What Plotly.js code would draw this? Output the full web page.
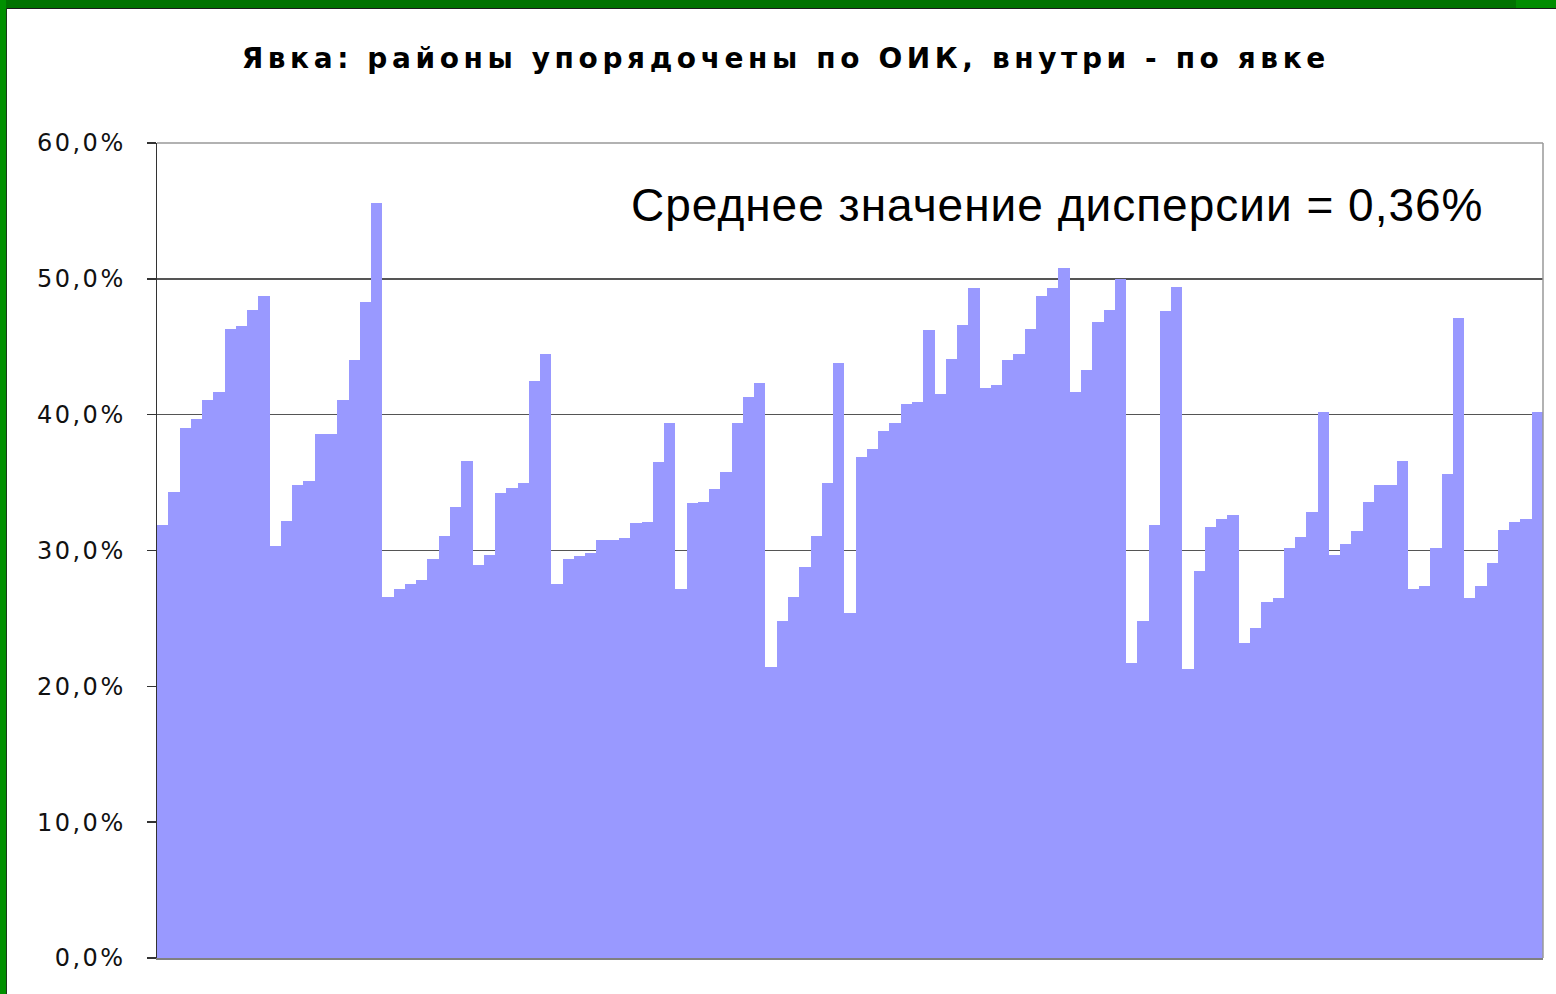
<!DOCTYPE html>
<html>
<head>
<meta charset="utf-8">
<script src="https://cdn.plot.ly/plotly-3.0.1.min.js"></script>
<style>
  html, body { margin: 0; padding: 0; background: #ffffff; }
  #wrap { position: relative; width: 1556px; height: 994px; overflow: hidden; }
  #chart { position: absolute; left: 0; top: 0; width: 1556px; height: 994px; }
  .frame { position: absolute; }
  .gtitle { letter-spacing: 4.6px; }
  .ytick text { letter-spacing: 2.5px; }
  .annotation-text { letter-spacing: 1px; }
</style>
</head>
<body>
<div id="wrap">
  <div id="chart"></div>
  <div class="frame" style="left:0;top:0;width:1516px;height:8px;background:#007200;"></div>
  <div class="frame" style="left:1516px;top:0;width:40px;height:8px;background:#008c00;"></div>
  <div class="frame" style="left:0;top:8px;width:1556px;height:1px;background:#1a1a1a;"></div>
  <div class="frame" style="left:0;top:0;width:6px;height:994px;background:#009000;"></div>
  <div class="frame" style="left:6px;top:8px;width:1px;height:986px;background:#1a3a1a;"></div>
</div>
<script>
// Turnout per district (%), districts ordered by OIK, within OIK by turnout
const turnout = [
  31.9, 34.3, 39.0, 39.7, 41.1, 41.7, 46.3, 46.5, 47.7, 48.7,
  30.3, 32.2, 34.8, 35.1, 38.6, 38.6, 41.1, 44.0, 48.3, 55.6,
  26.6, 27.2, 27.5, 27.8, 29.4, 31.1, 33.2, 36.6, 28.9, 29.7,
  34.2, 34.6, 35.0, 42.5, 44.5, 27.5, 29.4, 29.6, 29.8, 30.8,
  30.8, 30.9, 32.0, 32.1, 36.5, 39.4, 27.2, 33.5, 33.6, 34.5,
  35.8, 39.4, 41.3, 42.3, 21.4, 24.8, 26.6, 28.8, 31.1, 35.0,
  43.8, 25.4, 36.9, 37.5, 38.8, 39.4, 40.8, 40.9, 46.2, 41.5,
  44.1, 46.6, 49.3, 42.0, 42.2, 44.0, 44.5, 46.3, 48.7, 49.3,
  50.8, 41.7, 43.3, 46.8, 47.7, 50.0, 21.7, 24.8, 31.9, 47.6,
  49.4, 21.3, 28.5, 31.7, 32.3, 32.6, 23.2, 24.3, 26.2, 26.5,
  30.2, 31.0, 32.8, 40.2, 29.7, 30.5, 31.4, 33.6, 34.8, 34.8,
  36.6, 27.2, 27.4, 30.2, 35.6, 47.1, 26.5, 27.4, 29.1, 31.5,
  32.1, 32.3, 40.2
];
const districts = turnout.map((_, i) => i + 1);
const yTickValues = [0, 10, 20, 30, 40, 50, 60];
const yTickLabels = ['0,0%', '10,0%', '20,0%', '30,0%', '40,0%', '50,0%', '60,0%'];

const chartTitle = 'Явка: районы упорядочены по ОИК, внутри - по явке';
const noteText = 'Среднее значение дисперсии = 0,36%';

const trace = {
  type: 'bar',
  x: districts,
  y: turnout,
  marker: { color: '#9999ff', line: { width: 0 } },
  hoverinfo: 'y'
};

const layout = {
  width: 1556,
  height: 994,
  margin: { l: 157, r: 13, t: 143, b: 36, pad: 0 },
  paper_bgcolor: '#ffffff',
  plot_bgcolor: '#ffffff',
  showlegend: false,
  bargap: 0,
  title: {
    text: chartTitle,
    font: { family: 'DejaVu Sans', size: 28, color: '#000000', weight: 'bold' },
    x: 0.505,
    xanchor: 'center',
    y: 1 - 58 / 994,
    yanchor: 'middle'
  },
  xaxis: {
    type: 'linear',
    range: [0.5, turnout.length + 0.5],
    showticklabels: false,
    ticks: '',
    showgrid: false,
    zeroline: false,
    showline: true,
    linecolor: '#808080',
    linewidth: 1.5
  },
  yaxis: {
    range: [0, 60],
    tickmode: 'array',
    tickvals: yTickValues,
    ticktext: yTickLabels,
    ticks: 'outside',
    ticklen: 9,
    tickwidth: 1.5,
    tickcolor: '#333333',
    ticklabelstandoff: 16,
    tickfont: { family: 'DejaVu Sans', size: 24, color: '#111111' },
    showgrid: true,
    gridcolor: '#555555',
    gridwidth: 1.5,
    zeroline: false,
    showline: true,
    linecolor: '#333333',
    linewidth: 1.5,
    layer: 'below traces'
  },
  shapes: [
    { type: 'line', xref: 'paper', yref: 'paper', x0: 0, x1: 1, y0: 1, y1: 1,
      line: { color: '#999999', width: 1.5 } },
    { type: 'line', xref: 'paper', yref: 'paper', x0: 1, x1: 1, y0: 0, y1: 1,
      line: { color: '#999999', width: 1.5 } }
  ],
  annotations: [
    {
      text: noteText,
      xref: 'paper', yref: 'paper',
      x: (1057 - 157) / 1386, y: (958 - 205) / 815,
      xanchor: 'center', yanchor: 'middle',
      showarrow: false,
      font: { family: 'Liberation Sans', size: 46, color: '#000000' }
    }
  ]
};

Plotly.newPlot('chart', [trace], layout, { displayModeBar: false, staticPlot: true });
</script>
</body>
</html>
